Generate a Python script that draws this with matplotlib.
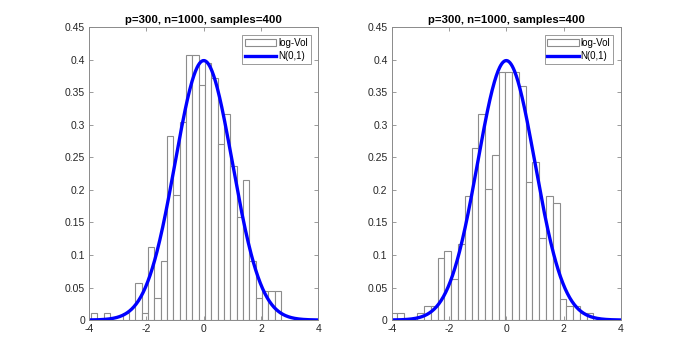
import numpy as np
import matplotlib
matplotlib.use('Agg')
from matplotlib import pyplot as plt

plt.rcParams['font.family'] = ['Liberation Sans', 'DejaVu Sans']
plt.rcParams['axes.unicode_minus'] = False

# histogram counts (400 samples, 30 bins)
n_samples = 400
left_range = (-3.942, 2.696)
left_counts = [1, 0, 1, 0, 0, 1, 0, 5, 1, 10, 3, 8, 25, 17, 27,
               36, 36, 32, 35, 33, 24, 28, 21, 14, 19, 8, 3, 4, 4, 4]
right_range = (-4.05, 3.042)
right_counts = [1, 1, 0, 0, 1, 2, 2, 9, 10, 6, 11, 18, 25, 30, 19,
                24, 36, 36, 36, 34, 20, 23, 12, 18, 17, 3, 2, 2, 1, 1]

title = 'p=300, n=1000, samples=400'
yticks = [0, 0.05, 0.1, 0.15, 0.2, 0.25, 0.3, 0.35, 0.4, 0.45]
ytick_labels = ['0', '0.05', '0.1', '0.15', '0.2', '0.25', '0.3', '0.35', '0.4', '0.45']
xticks = [-4, -2, 0, 2, 4]

frame_col = '#8a8a8a'
text_col = '#262626'

fig = plt.figure(figsize=(6.86, 3.6), dpi=100)
ax_l = fig.add_axes([0.130, 0.111, 0.334, 0.813])
ax_r = fig.add_axes([0.571, 0.111, 0.334, 0.813])

xs = np.linspace(-4, 4, 400)
pdf = np.exp(-xs**2 / 2) / np.sqrt(2 * np.pi)

for ax, rng, counts in [(ax_l, left_range, left_counts), (ax_r, right_range, right_counts)]:
    edges = np.linspace(rng[0], rng[1], len(counts) + 1)
    w = edges[1] - edges[0]
    dens = np.array(counts) / (n_samples * w)
    bars = ax.bar(edges[:-1], dens, width=w, align='edge', facecolor='white',
                  edgecolor='#8c8c8c', linewidth=0.8, label='log-Vol')
    line, = ax.plot(xs, pdf, color='#0000ff', linewidth=2.4, label='N(0,1)')
    ax.set_xlim(-4, 4)
    ax.set_ylim(0, 0.45)
    ax.set_xticks(xticks)
    ax.set_yticks(yticks)
    ax.set_yticklabels(ytick_labels)
    ax.tick_params(direction='in', length=3, width=0.6, colors=frame_col,
                   labelcolor=text_col, labelsize=7.5, top=True, right=True, pad=3)
    for s in ax.spines.values():
        s.set_color(frame_col)
        s.set_linewidth(0.7)
    ax.set_title(title, fontsize=8.2, fontweight='bold', color='black', pad=3)
    leg = ax.legend([bars, line], ['log-Vol', 'N(0,1)'], loc='upper right',
                    fontsize=7, frameon=True, fancybox=False,
                    edgecolor=frame_col, framealpha=1, borderaxespad=0.8,
                    handlelength=3.2, handletextpad=0.2, labelspacing=0.3,
                    borderpad=0.3)
    leg.get_frame().set_linewidth(0.6)

fig.savefig('out.png', dpi=100, facecolor='white')
